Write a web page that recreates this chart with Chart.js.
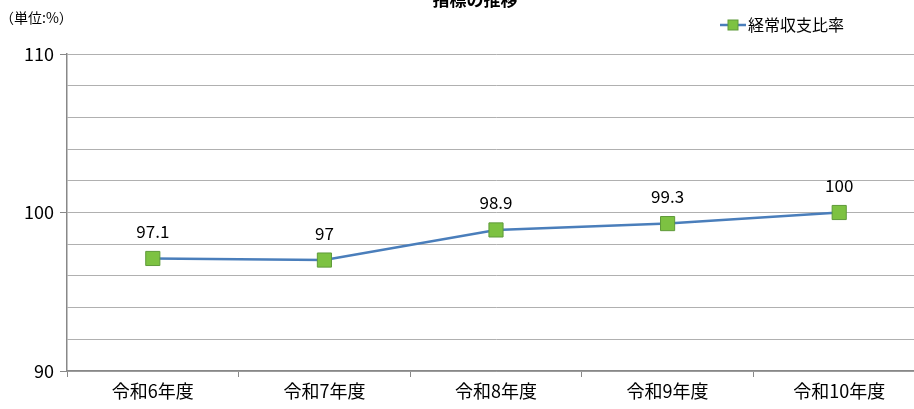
<!DOCTYPE html>
<html>
<head>
<meta charset="utf-8">
<script src="https://cdn.jsdelivr.net/npm/chart.js@4"></script>
<style>
  html, body { margin: 0; padding: 0; background: #fff; overflow: hidden; }
  #wrap { position: absolute; left: 0; top: 0; width: 936px; height: 409px; }
</style>
</head>
<body>
<div id="wrap"><canvas id="chart"></canvas></div>
<script>
const categories = ["令和6年度", "令和7年度", "令和8年度", "令和9年度", "令和10年度"];
const ratioValues = [97.1, 97, 98.9, 99.3, 100];
const seriesName = "経常収支比率";
const chartTitle = "指標の推移";
const unitLabel = "（単位:%）";

const JP = '"Noto Sans CJK JP", "Noto Sans", sans-serif';
const LINE = "#4a7ebb";
const MARK = "#7dc242";
const MARK_EDGE = "#5f9a3a";

const extras = {
  id: "extras",
  afterDraw(chart) {
    const ctx = chart.ctx;
    ctx.save();
    // title (cut by top edge)
    ctx.fillStyle = "#000";
    ctx.font = "bold 17px " + JP;
    ctx.textAlign = "center";
    ctx.textBaseline = "middle";
    ctx.fillText(chartTitle, 475, 0);
    // unit
    ctx.font = "14px " + JP;
    ctx.textAlign = "left";
    ctx.fillText(unitLabel, 0, 18);
    // legend
    ctx.strokeStyle = LINE;
    ctx.lineWidth = 2.5;
    ctx.beginPath();
    ctx.moveTo(720, 25);
    ctx.lineTo(746, 25);
    ctx.stroke();
    ctx.fillStyle = MARK;
    ctx.fillRect(728, 20, 10, 10);
    ctx.strokeStyle = MARK_EDGE;
    ctx.lineWidth = 1;
    ctx.strokeRect(728, 20, 10, 10);
    ctx.fillStyle = "#000";
    ctx.font = "16px " + JP;
    ctx.fillText(seriesName, 748, 25);
    // data labels
    const meta = chart.getDatasetMeta(0);
    ctx.font = "17px " + JP;
    ctx.textAlign = "center";
    meta.data.forEach((pt, i) => {
      ctx.fillText(String(ratioValues[i]), pt.x, pt.y - 27);
    });
    ctx.restore();
  }
};

new Chart(document.getElementById("chart"), {
  type: "line",
  data: {
    labels: categories,
    datasets: [{
      label: seriesName,
      data: ratioValues,
      borderColor: LINE,
      borderWidth: 2.5,
      pointStyle: "rect",
      pointRadius: 10,
      pointHoverRadius: 10,
      pointBackgroundColor: MARK,
      pointBorderColor: MARK_EDGE,
      pointBorderWidth: 1,
      tension: 0
    }]
  },
  options: {
    responsive: true,
    maintainAspectRatio: false,
    animation: false,
    layout: { padding: { top: 54, right: 5, left: 0, bottom: 0 } },
    plugins: { legend: { display: false }, tooltip: { enabled: false } },
    scales: {
      x: {
        offset: true,
        grid: { offset: true, drawOnChartArea: false, tickLength: 6, color: "#888" },
        border: { color: "#888", width: 1.5 },
        ticks: { color: "#000", font: { family: JP, size: 18 }, padding: 3, maxRotation: 0 },
        afterFit(s) { s.height = 38; }
      },
      y: {
        min: 90,
        max: 110,
        ticks: {
          stepSize: 2,
          autoSkip: false,
          color: "#000",
          font: { family: JP, size: 18 },
          padding: 6,
          callback: v => (v % 10 === 0 ? v : "")
        },
        grid: {
          color: "#b0b0b0",
          lineWidth: 1,
          tickLength: 7,
          tickColor: c => (c.tick && c.tick.value % 10 === 0 ? "#888" : "rgba(0,0,0,0)")
        },
        border: { color: "#888", width: 1.5 },
        afterFit(s) { s.width = 67; }
      }
    }
  },
  plugins: [extras]
});
</script>
</body>
</html>
